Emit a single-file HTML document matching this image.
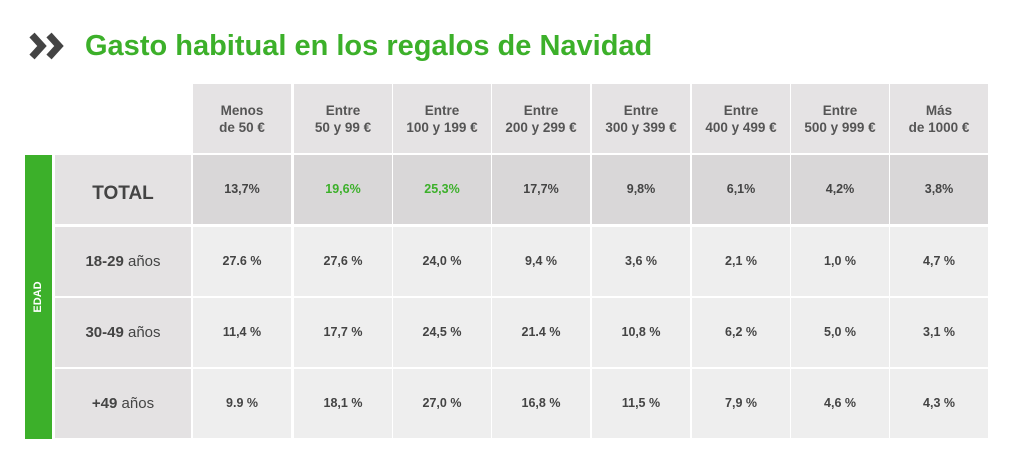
<!DOCTYPE html>
<html><head><meta charset="utf-8"><style>
body{margin:0;width:1024px;height:459px;background:#fff;position:relative;overflow:hidden;font-family:"Liberation Sans",sans-serif;color:#444}
.c{position:absolute;display:flex;align-items:center;justify-content:center;text-align:center;font-weight:bold;font-size:12.5px;line-height:17px}
.h{background:#e5e3e4;font-size:13.5px;color:#555}
.t{background:#d9d7d8}
.d{background:#eeeeee}
.l{background:#e4e2e3;font-size:15px;color:#444}
.g{color:#3cb02a}
</style></head><body>
<svg style="position:absolute;left:28px;top:32px" width="42" height="30"><path d="M4 3 L14 14 L4 25" stroke="#444" stroke-width="7" fill="none"/><path d="M21 3 L31 14 L21 25" stroke="#444" stroke-width="7" fill="none"/></svg>
<div style="position:absolute;left:85px;top:30px;font-size:29px;font-weight:bold;color:#3cb02a">Gasto habitual en los regalos de Navidad</div>
<div style="position:absolute;left:25px;top:155px;width:27px;height:284px;background:#3cb02a"></div>
<div style="position:absolute;left:38px;top:297px;transform:translate(-50%,-50%) rotate(-90deg);color:#fff;font-weight:bold;font-size:11px">EDAD</div>
<div id="g"></div>
<script>
const xs=[193,294,393,492,592,692,791,890],w=98;
const hd=["Menos<br>de 50 €","Entre<br>50 y 99 €","Entre<br>100 y 199 €","Entre<br>200 y 299 €","Entre<br>300 y 399 €","Entre<br>400 y 499 €","Entre<br>500 y 999 €","Más<br>de 1000 €"];
const rows=[[155,'<span style="font-size:19px;position:relative;top:4px">TOTAL</span>','t',["13,7%","19,6%","25,3%","17,7%","9,8%","6,1%","4,2%","3,8%"]],
[227,'18-29 <span style="font-weight:normal">&nbsp;años</span>','d',["27.6 %","27,6 %","24,0 %","9,4 %","3,6 %","2,1 %","1,0 %","4,7 %"]],
[298,'30-49 <span style="font-weight:normal">&nbsp;años</span>','d',["11,4 %","17,7 %","24,5 %","21.4 %","10,8 %","6,2 %","5,0 %","3,1 %"]],
[369,'+49 <span style="font-weight:normal">&nbsp;años</span>','d',["9.9 %","18,1 %","27,0 %","16,8 %","11,5 %","7,9 %","4,6 %","4,3 %"]]];
let s="";
xs.forEach((x,i)=>s+=`<div class="c h" style="left:${x}px;top:84px;width:${w}px;height:69px">${hd[i]}</div>`);
rows.forEach(r=>{s+=`<div class="c l ${r[2]=='t'?'t':''}" style="left:55px;top:${r[0]}px;width:136px;height:69px">${r[1]}</div>`;
xs.forEach((x,i)=>s+=`<div class="c ${r[2]} ${r[2]=='t'&&(i==1||i==2)?'g':''}" style="left:${x}px;top:${r[0]}px;width:${w}px;height:69px">${r[3][i]}</div>`)});
document.getElementById('g').innerHTML=s;
</script>
</body></html>
